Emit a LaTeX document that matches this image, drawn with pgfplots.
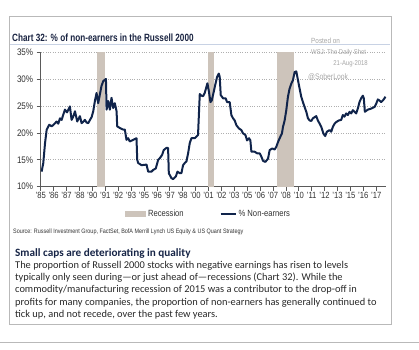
\documentclass[border=0pt]{standalone}
\usepackage{fontspec}
\setmainfont{Liberation Sans}
\newfontfamily\narrow[FakeStretch=0.85]{Liberation Sans}
\newfontfamily\titlefont[FakeStretch=0.78]{Liberation Sans}
\newfontfamily\carlito{Carlito}
\usepackage{pgfplots}
\pgfplotsset{compat=1.18}
\definecolor{navy}{RGB}{16,36,75}
\definecolor{recess}{RGB}{205,196,187}
\definecolor{titlecol}{RGB}{25,35,65}
\definecolor{gridcol}{RGB}{175,175,175}
\definecolor{axiscol}{RGB}{90,90,90}
\definecolor{labelcol}{RGB}{50,50,50}
\definecolor{wm}{RGB}{165,165,165}
\definecolor{boxcol}{RGB}{185,185,185}
\definecolor{titleline}{RGB}{200,210,228}
\definecolor{bodycol}{RGB}{40,40,40}
\definecolor{headcol}{RGB}{22,36,70}
\begin{document}
\begin{tikzpicture}[x=1pt,y=1pt]
\useasboundingbox (0,0) rectangle (419,349);
\draw[boxcol, line width=0.8pt] (9,333) rectangle (391,25);
\draw[boxcol, line width=0.8pt] (0,7) -- (419,7);
\node[anchor=base west, inner sep=0, text=titlecol, font=\titlefont\bfseries\fontsize{10.5}{12}\selectfont] at (12,307.5) {Chart 32: \% of non-earners in the Russell 2000};
\draw[titleline, line width=1pt] (10,305) -- (390,305);
\begin{axis}[
  at={(40.7pt,162.3pt)}, anchor=south west, scale only axis,
  width=345.3pt, height=134.7pt,
  xmin=1985, xmax=2018.45, ymin=10, ymax=35,
  axis x line*=bottom, axis y line*=left,
  axis line style={axiscol, line width=0.8pt, -},
  xtick pos=left, ytick pos=left,
  xtick={1985,1986.25,1987.5,1988.75,1990,1991.25,1992.5,1993.75,1995,1996.25,1997.5,1998.75,2000,2001.25,2002.5,2003.75,2005,2006.25,2007.5,2008.75,2010,2011.25,2012.5,2013.75,2015,2016.25,2017.5},
  xticklabels={’85,’86,’87,’88,’90,’91,’92,’93,’95,’96,’97,’98,’00,’01,’02,’03,’05,’06,’07,’08,’10,’11,’12,’13,’15,’16,’17},
  ytick={10,15,20,25,30,35},
  yticklabels={10\%,15\%,20\%,25\%,30\%,35\%},
  tick align=outside, major tick length=4pt,
  tick style={axiscol, line width=0.6pt},
  ymajorgrids, grid style={gridcol, dotted, line width=0.6pt},
  ticklabel style={font=\narrow\fontsize{9}{10}\selectfont, text=labelcol},
  yticklabel style={font=\narrow\fontsize{9.5}{10}\selectfont},
  xticklabel style={inner sep=1pt},
  legend style={draw=none, fill=none, at={(0.486,-0.203)}, anchor=center,
    font=\narrow\fontsize{9}{10}\selectfont, text=labelcol,
    /tikz/every even column/.append style={column sep=34pt}},
  legend columns=2, legend cell align=left,
]
\addplot[fill=recess, draw=none, legend image code/.code={\fill[recess] (0pt,-3pt) rectangle (21pt,3pt);}]
  coordinates {(1990.5,10) (1990.5,35) (1991.25,35) (1991.25,10)} -- cycle;
\addlegendentry{Recession}
\addplot[fill=recess, draw=none, forget plot]
  coordinates {(2001.17,10) (2001.17,35) (2001.83,35) (2001.83,10)} -- cycle;
\addplot[fill=recess, draw=none, forget plot]
  coordinates {(2007.92,10) (2007.92,35) (2009.5,35) (2009.5,10)} -- cycle;
\addplot[navy, line width=2pt, line join=round, legend image code/.code={\draw[navy, line width=1.8pt] (0pt,0pt) -- (15pt,0pt);}] coordinates {
(1985.09,12.8) (1985.25,14.4) (1985.42,18.1) (1985.58,20.6) (1985.83,21.5)
(1986.06,21.2) (1986.30,21.6) (1986.54,22.1) (1986.70,21.7) (1986.87,22.7)
(1987.03,22.4) (1987.19,23.4) (1987.35,24.3) (1987.55,23.8) (1987.83,24.9)
(1987.99,22.4) (1988.15,23.0) (1988.32,24.0) (1988.54,22.1) (1988.80,23.1)
(1988.96,21.8) (1989.10,22.0) (1989.28,22.4) (1989.45,21.9) (1989.61,21.8)
(1989.77,22.4) (1989.93,22.9) (1990.09,24.0) (1990.25,25.9) (1990.41,27.4)
(1990.57,25.5) (1990.73,27.1) (1990.89,28.7) (1991.06,29.6) (1991.32,30.0)
(1991.38,24.3) (1991.54,25.9) (1991.70,24.3) (1991.86,26.5) (1992.02,24.6)
(1992.18,25.5) (1992.35,24.0) (1992.41,21.2) (1992.67,20.9) (1992.99,20.6)
(1993.15,20.6) (1993.31,18.7) (1993.47,19.0) (1993.63,18.4) (1993.96,18.7)
(1994.28,19.0) (1994.35,15.0) (1994.44,14.4) (1994.77,14.0) (1995.25,14.1)
(1995.41,12.8) (1995.73,12.8) (1995.89,13.1) (1996.15,13.4) (1996.38,15.0)
(1996.54,15.3) (1996.76,15.9) (1996.92,16.8) (1997.18,17.2) (1997.34,17.2)
(1997.41,12.5) (1997.66,11.6) (1997.83,11.4) (1998.09,11.9) (1998.25,12.8)
(1998.47,12.5) (1998.63,12.5) (1998.79,14.0) (1998.96,14.4) (1999.12,14.7)
(1999.28,16.2) (1999.44,18.1) (1999.60,19.0) (1999.92,19.0) (2000.08,19.3)
(2000.24,19.6) (2000.41,27.2) (2000.57,26.9) (2000.73,26.8) (2000.89,27.4)
(2001.05,28.5) (2001.15,29.2) (2001.31,27.5) (2001.44,25.7) (2001.57,26.0)
(2001.76,27.6) (2001.93,29.1) (2002.09,30.4) (2002.25,31.0) (2002.34,30.4)
(2002.44,27.0) (2002.67,26.4) (2002.92,26.4) (2003.05,25.7) (2003.31,25.7)
(2003.47,23.3) (2003.63,22.7) (2003.79,22.3) (2003.96,21.4) (2004.21,20.8)
(2004.44,20.5) (2004.60,19.9) (2004.83,19.6) (2004.99,18.6) (2005.18,19.0)
(2005.31,18.6) (2005.41,16.5) (2005.73,16.5) (2005.96,16.2) (2006.21,16.2)
(2006.37,15.6) (2006.54,14.8) (2006.76,14.6) (2007.02,15.2) (2007.18,16.8)
(2007.44,17.1) (2007.66,16.9) (2007.82,17.4) (2007.99,18.3) (2008.15,19.0)
(2008.37,19.9) (2008.47,21.1) (2008.63,22.3) (2008.79,24.2) (2008.95,26.7)
(2009.11,28.2) (2009.27,29.1) (2009.44,29.8) (2009.60,31.3) (2009.76,31.4)
(2009.92,29.8) (2010.08,28.2) (2010.24,26.7) (2010.40,25.7) (2010.56,24.8)
(2010.73,23.9) (2010.89,22.7) (2011.05,22.3) (2011.21,22.2) (2011.37,22.7)
(2011.53,22.9) (2011.69,23.1) (2011.85,22.3) (2012.02,21.7) (2012.18,21.1)
(2012.40,19.8) (2012.56,19.4) (2012.72,20.2) (2012.98,20.5) (2013.14,20.2)
(2013.30,21.1) (2013.47,21.7) (2013.63,22.0) (2013.88,22.3) (2014.11,22.4)
(2014.27,23.3) (2014.43,23.0) (2014.59,23.6) (2014.76,23.3) (2014.92,23.9)
(2015.08,23.6) (2015.24,24.2) (2015.40,23.9) (2015.56,23.6) (2015.72,24.5)
(2015.88,25.7) (2016.04,26.4) (2016.21,26.9) (2016.30,26.4) (2016.40,23.9)
(2016.69,24.3) (2017.01,24.5) (2017.34,24.8) (2017.50,25.4) (2017.66,26.2)
(2017.82,26.0) (2017.98,25.7) (2018.14,26.0) (2018.30,26.4) (2018.40,26.7)
};
\addlegendentry{\% Non-earners}
\end{axis}
\node[anchor=base west, inner sep=0, text=wm, font=\narrow\fontsize{7.5}{9}\selectfont] at (311,305.5) {Posted on};
\node[anchor=base west, inner sep=0, text=wm, font=\narrow\fontsize{7}{9}\selectfont] at (311,295) {WSJ: The Daily Shot};
\node[anchor=base east, inner sep=0, text=wm, font=\narrow\fontsize{7}{9}\selectfont] at (368,284) {21-Aug-2018};
\node[anchor=base west, inner sep=0, text=wm, font=\narrow\fontsize{8}{9}\selectfont] at (308,269.5) {@SoberLook};
\node[anchor=base west, inner sep=0, text=labelcol, font=\narrow\fontsize{6.4}{8}\selectfont] at (13,116) {Source: Russell Investment Group, FactSet, BofA Merrill Lynch US Equity \& US Quant Strategy};
\node[anchor=base west, inner sep=0, text=headcol, font=\carlito\bfseries\fontsize{11.2}{12}\selectfont] at (15,93) {Small caps are deteriorating in quality};
\begin{scope}[every node/.style={anchor=base west, inner sep=0, text=bodycol, font=\carlito\fontsize{10.4}{12}\selectfont}]
\node at (15,80.9) {The proportion of Russell 2000 stocks with negative earnings has risen to levels};
\node at (15,68.6) {typically only seen during—or just ahead of—recessions (Chart 32). While the};
\node at (15,56.3) {commodity/manufacturing recession of 2015 was a contributor to the drop-off in};
\node at (15,44) {profits for many companies, the proportion of non-earners has generally continued to};
\node at (15,31.7) {tick up, and not recede, over the past few years.};
\end{scope}
\end{tikzpicture}
\end{document}
